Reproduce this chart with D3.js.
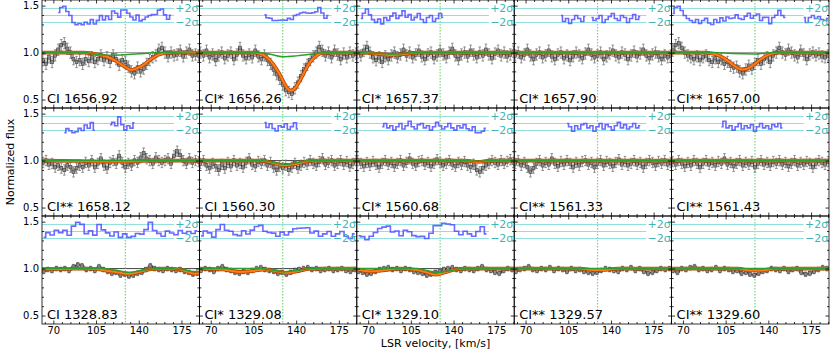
<!DOCTYPE html>
<html>
<head>
<meta charset="utf-8">
<script src="https://cdn.jsdelivr.net/npm/d3@7"></script>
<style>
  body { margin: 0; background: #fff; }
  svg { display: block; font-family: "DejaVu Sans", sans-serif; }
</style>
</head>
<body>
<div id="chart"></div>
<script>
// panel labels, row by row
const panelLabels = [
  'CI 1656.92', 'CI* 1656.26', 'CI* 1657.37', 'CI* 1657.90', 'CI** 1657.00',
  'CI** 1658.12', 'CI 1560.30', 'CI* 1560.68', 'CI** 1561.33', 'CI** 1561.43',
  'CI 1328.83', 'CI* 1329.08', 'CI* 1329.10', 'CI** 1329.57', 'CI** 1329.60'
];

// pixel grid of the spectrum in each row (km/s)
const rowVelStart = [61.5, 61.5, 62];
const rowVelStep = [2.5, 2.5, 3.5];
const rowFluxErr = [0.06, 0.055, 0.025];
// 1 sigma used for the residual strip
const rowResidErr = [0.035, 0.032, 0.015];

const xTicks = [70, 105, 140, 175];
const yTicks = [0.5, 1.0, 1.5];
const componentVel = 129;

// normalized flux
const fluxR1C1 = [0.92,0.88,0.95,0.90,0.97,1.03,1.08,1.10,1.04,1.00,0.93,0.90,0.92,0.88,0.93,0.91,0.95,0.90,0.93,0.97,0.92,0.95,0.90,0.97,0.93,0.87,0.92,0.90,0.85,0.80,0.78,0.84,0.80,0.83,0.88,0.92,0.95,0.97,1.03,1.05,1.00,0.96,1.00,0.97,0.98,1.02,0.96,1.00,1.03,0.97,0.98,0.97];
const fluxR1C2 = [1.00,0.97,1.02,0.95,0.98,0.92,0.97,1.00,0.94,0.97,1.00,0.93,0.98,1.05,0.97,0.94,0.98,0.95,1.02,0.96,0.93,0.97,0.92,0.88,0.82,0.77,0.72,0.66,0.60,0.58,0.56,0.62,0.68,0.75,0.82,0.87,0.92,0.96,1.00,1.06,1.02,0.97,1.00,0.95,1.02,0.98,0.93,0.99,0.95,1.00,0.97,0.99];
const fluxR1C3 = [1.00,0.97,1.02,1.06,1.00,0.95,0.92,0.95,0.90,0.96,0.93,0.97,1.00,0.95,0.98,1.03,0.97,1.00,0.95,0.98,1.02,0.96,0.93,0.98,1.00,0.94,0.97,1.02,0.98,0.95,1.00,1.04,0.97,0.93,0.98,1.00,0.96,1.02,0.98,0.95,1.00,0.97,1.03,0.98,0.94,0.99,1.02,0.97,1.00,0.96,0.98,1.01];
const fluxR1C4 = [0.97,1.00,0.95,0.98,1.03,0.97,0.93,0.98,1.00,0.95,0.97,1.02,0.96,0.93,0.98,1.00,0.94,0.97,0.92,0.96,1.00,0.97,0.94,0.99,1.03,0.98,0.95,0.97,1.00,0.93,0.96,0.99,1.02,0.97,0.95,1.00,0.98,0.93,0.97,1.01,0.96,0.99,1.03,0.97,0.94,0.98,1.00,0.96,0.93,0.97,0.95,0.97];
const fluxR1C5 = [1.02,1.08,1.10,1.05,1.00,0.97,0.95,0.93,0.96,0.92,0.95,0.97,0.92,0.90,0.94,0.90,0.93,0.88,0.90,0.86,0.84,0.85,0.80,0.78,0.82,0.86,0.83,0.88,0.92,0.88,0.93,0.95,0.90,0.97,1.00,1.05,1.00,0.98,1.03,1.00,0.97,0.95,1.02,0.98,0.93,0.98,1.00,0.97,0.99,0.96,0.95,0.97];
const fluxR2C1 = [0.98,1.00,0.96,0.97,0.93,0.95,0.92,0.90,0.95,0.93,0.88,0.92,0.95,0.93,0.98,0.95,1.00,0.93,0.97,1.02,0.95,0.92,0.98,1.00,0.97,1.05,0.98,0.93,0.97,0.95,1.00,0.98,1.03,1.08,1.02,1.00,0.97,1.03,1.00,0.98,1.00,1.02,0.97,1.05,1.10,1.06,1.00,0.97,1.02,0.98,1.00,0.99];
const fluxR2C2 = [0.97,1.00,0.95,0.92,0.97,0.94,0.90,0.96,0.92,0.98,0.94,1.00,0.95,0.97,0.93,0.98,1.02,0.96,0.94,0.99,0.97,1.00,0.95,0.98,0.93,0.90,0.94,0.92,0.95,0.90,0.93,0.97,0.92,0.95,0.98,0.96,1.00,0.97,0.95,0.99,1.02,0.96,0.98,1.00,0.95,0.97,1.00,0.96,0.99,0.94,0.97,1.00];
const fluxR2C3 = [1.00,0.97,0.94,0.98,0.95,0.99,0.96,0.93,0.97,1.00,0.96,0.98,0.94,0.97,1.00,0.95,0.98,1.02,0.97,0.95,0.99,1.00,0.96,0.98,0.94,0.97,1.01,0.98,0.95,0.97,1.00,0.96,0.94,0.98,0.96,0.99,0.95,0.93,0.96,0.90,0.88,0.92,0.95,0.97,1.00,0.98,0.96,1.00,0.97,0.99,1.01,0.98];
const fluxR2C4 = [0.97,1.00,0.95,0.98,0.93,0.88,0.92,0.97,1.00,0.95,0.98,0.96,1.02,0.97,0.94,0.99,0.96,1.00,0.97,0.93,0.98,0.95,0.99,1.00,0.96,0.98,0.93,0.97,1.00,0.95,0.99,0.97,0.94,0.98,1.01,0.96,0.99,0.95,0.97,1.00,0.96,0.98,0.93,0.97,1.00,0.98,0.95,0.99,0.97,1.00,0.96,0.98];
const fluxR2C5 = [0.99,0.96,1.00,0.97,0.94,0.98,0.95,1.00,0.97,0.93,0.97,1.00,0.96,0.98,0.95,0.99,0.97,1.02,0.96,0.98,0.94,0.97,1.00,0.95,0.98,0.96,0.99,0.93,0.97,1.00,0.96,0.98,0.95,0.99,0.97,1.00,0.96,0.98,0.94,0.97,1.00,0.95,0.98,0.96,0.99,0.97,0.93,0.97,1.00,0.98,0.96,0.99];
const fluxR3C1 = [0.97,0.99,0.98,1.00,0.99,1.00,0.98,1.02,1.04,1.03,0.99,1.00,0.98,1.02,0.99,0.97,0.95,0.96,0.93,0.94,0.92,0.93,0.95,0.96,0.99,1.03,1.00,0.99,0.98,1.00,0.99,0.98,0.99,0.97,0.96,0.94,0.95];
const fluxR3C2 = [0.98,1.00,0.99,0.97,1.00,1.02,0.99,0.98,0.96,0.95,0.97,0.96,0.98,1.00,1.01,0.99,0.98,0.97,0.95,0.96,0.94,0.96,0.98,0.99,1.00,1.01,0.99,1.00,0.98,0.99,1.00,0.98,0.99,1.00,0.98,0.97,0.99];
const fluxR3C3 = [0.97,0.96,0.94,0.95,0.97,0.99,1.00,1.01,0.99,1.00,0.98,1.00,0.99,0.97,0.96,0.95,0.93,0.94,0.96,0.97,0.99,1.00,1.01,0.99,0.98,1.00,0.99,0.98,1.00,1.02,0.99,0.98,0.96,0.95,0.98,1.00,0.99];
const fluxR3C4 = [0.97,0.99,1.00,1.02,0.99,0.98,1.00,0.99,1.01,0.98,1.00,0.99,0.97,1.00,0.98,0.99,0.97,0.96,0.95,0.96,0.98,1.00,0.99,0.98,0.97,1.00,0.99,1.01,0.98,1.00,0.97,0.95,0.96,0.98,1.00,0.99,1.00];
const fluxR3C5 = [0.98,0.96,1.00,0.99,1.01,1.02,0.99,1.00,0.98,0.99,1.01,0.98,1.00,0.99,0.97,0.98,0.95,0.96,0.94,0.93,0.95,0.97,0.98,1.00,0.99,0.98,1.00,0.97,0.99,1.00,0.96,0.94,0.95,0.97,0.99,1.01,1.00];

const panelFlux = [
  fluxR1C1, fluxR1C2, fluxR1C3, fluxR1C4, fluxR1C5,
  fluxR2C1, fluxR2C2, fluxR2C3, fluxR2C4, fluxR2C5,
  fluxR3C1, fluxR3C2, fluxR3C3, fluxR3C4, fluxR3C5
];

// total model (orange), [velocity, flux] knots
const modelTotal = [
  [[61,1],[95,1],[102,0.99],[108,0.975],[114,0.955],[120,0.92],[126,0.87],[131,0.83],[134,0.815],[138,0.83],[144,0.87],[150,0.93],[156,0.975],[162,0.995],[168,1],[190,1]],
  [[61,1],[105,1],[110,0.99],[116,0.95],[121,0.88],[126,0.78],[130,0.68],[133,0.615],[136,0.595],[139,0.62],[143,0.7],[147,0.8],[151,0.89],[156,0.96],[161,0.995],[166,1],[190,1]],
  [[61,1],[70,0.995],[80,0.985],[90,0.975],[100,0.985],[110,1],[190,1]],
  [[61,1],[190,1]],
  [[61,1],[88,1],[94,0.99],[100,0.965],[106,0.92],[111,0.87],[115,0.835],[119,0.82],[123,0.83],[128,0.87],[134,0.93],[140,0.975],[146,0.997],[150,1],[190,1]],
  [[61,1],[90,0.995],[110,0.99],[130,0.99],[150,1],[190,1]],
  [[61,1],[110,1],[120,0.98],[130,0.95],[138,0.96],[148,0.99],[155,1],[190,1]],
  [[61,1],[150,1],[160,0.985],[170,1],[190,1]],
  [[61,1],[190,1]],
  [[61,1],[190,1]],
  [[61,0.995],[80,0.995],[95,1],[105,0.995],[115,0.975],[125,0.955],[132,0.945],[138,0.955],[145,0.98],[152,0.995],[160,1],[170,0.995],[177,0.98],[182,0.955],[186,0.945],[190,0.95]],
  [[61,1],[80,0.99],[95,0.965],[105,0.975],[115,0.99],[125,0.97],[132,0.955],[140,0.97],[150,0.995],[160,1],[190,1]],
  [[61,0.99],[72,0.97],[82,0.98],[95,1],[110,0.985],[118,0.96],[125,0.935],[132,0.955],[140,0.985],[150,1],[190,1]],
  [[61,1],[115,1],[125,0.985],[135,0.985],[145,1],[190,1]],
  [[61,1],[115,1],[125,0.98],[135,0.98],[145,1],[190,1]]
];

// single component (green) knots
const modelComponent = [
  [[61,1],[95,1],[105,0.98],[115,0.972],[125,0.975],[140,0.988],[160,1],[175,0.995],[190,0.99]],
  [[61,1],[108,1],[118,0.985],[129,0.956],[140,0.965],[150,0.98],[160,0.995],[168,1],[190,1]],
  [[61,1],[70,0.995],[80,0.99],[90,0.985],[100,0.99],[110,1],[190,1]],
  [[61,1],[190,1]],
  [[61,1],[95,1],[110,0.99],[129,0.985],[145,1],[190,1]],
  [[61,1],[190,1]],
  [[61,1],[110,1],[120,0.985],[130,0.96],[138,0.97],[148,0.995],[155,1],[190,1]],
  [[61,1],[150,1],[160,0.99],[170,1],[190,1]],
  [[61,1],[190,1]],
  [[61,1],[190,1]],
  [[61,1],[110,1],[120,0.985],[132,0.96],[145,0.985],[160,1],[175,0.99],[185,0.97],[190,0.97]],
  [[61,1],[110,1],[120,0.985],[130,0.965],[140,0.98],[155,1],[190,1]],
  [[61,1],[110,1],[118,0.98],[127,0.96],[136,0.975],[148,1],[190,1]],
  [[61,1],[190,1]],
  [[61,1],[190,1]]
];

// velocity ranges that were fitted (residuals shown)
const residRanges = [
  [[74,168]], [[113,168]], [[64,133]], [[98,120],[124,164]], [[61,155],[169,190]],
  [[79,104],[115,138]], [[112,143]], [[80,168]], [[102,164]], [[100,153]],
  [[61,190]], [[61,190]], [[61,167]], [], []
];

const width = 830, height = 353;
const margin = { left: 42, top: 0 };
const panelW = 157.4, panelH = 108;
const velDomain = [60.7, 189.7];
const fluxDomain = [0.41, 1.56];
const residCenter = 1.395, residSigma = 0.0375;

const svg = d3.select('#chart').append('svg')
  .attr('width', width)
  .attr('height', height);

const defs = svg.append('defs');

panelLabels.forEach((label, p) => {
  const row = Math.floor(p / 5), col = p % 5;
  const x0 = margin.left + col * panelW;
  const y0 = margin.top + row * panelH;

  const x = d3.scaleLinear().domain(velDomain).range([x0, x0 + panelW]);
  const y = d3.scaleLinear().domain(fluxDomain).range([y0 + panelH, y0]);

  defs.append('clipPath').attr('id', `clip${p}`)
    .append('rect').attr('x', x0).attr('y', y0).attr('width', panelW).attr('height', panelH);

  const g = svg.append('g');
  const plot = g.append('g').attr('clip-path', `url(#clip${p})`);

  const flux = panelFlux[p];
  const err = rowFluxErr[row];
  const pts = flux.map((f, i) => ({ v: rowVelStart[row] + i * rowVelStep[row], f }));

  const knots = modelTotal[p];
  const model = d3.scaleLinear().domain(knots.map(k => k[0])).range(knots.map(k => k[1]));

  // continuum
  plot.append('line')
    .attr('x1', x0).attr('x2', x0 + panelW)
    .attr('y1', y(1)).attr('y2', y(1))
    .attr('stroke', row === 0 ? '#999' : '#444').attr('stroke-width', 1);

  // component velocity
  plot.append('line')
    .attr('x1', x(componentVel)).attr('x2', x(componentVel))
    .attr('y1', y0).attr('y2', y0 + panelH)
    .attr('stroke', '#7ad67a').attr('stroke-width', 1.2)
    .attr('stroke-dasharray', '1.5,1.5');

  // 2 sigma guide lines
  [residCenter + 2 * residSigma, residCenter, residCenter - 2 * residSigma].forEach(v => {
    plot.append('line')
      .attr('x1', x0).attr('x2', x(169))
      .attr('y1', y(v)).attr('y2', y(v))
      .attr('stroke', '#8fdede').attr('stroke-width', 1);
  });

  // residuals
  const inRange = v => residRanges[p].some(r => v >= r[0] && v <= r[1]);
  const resid = pts.map(d => ({
    v: d.v,
    r: residCenter + residSigma * Math.max(-2.6, Math.min(2.6, (d.f - model(d.v)) / rowResidErr[row])),
    ok: inRange(d.v)
  }));
  plot.append('path')
    .datum(resid)
    .attr('fill', 'none')
    .attr('stroke', '#5050ff')
    .attr('stroke-opacity', 0.85)
    .attr('stroke-width', 1.6)
    .attr('d', d3.line().defined(d => d.ok).curve(d3.curveStep).x(d => x(d.v)).y(d => y(d.r)));

  // error bars
  const eb = plot.append('g').attr('stroke', '#777').attr('stroke-width', 0.8);
  pts.forEach(d => {
    eb.append('line').attr('x1', x(d.v)).attr('x2', x(d.v)).attr('y1', y(d.f - err)).attr('y2', y(d.f + err));
    eb.append('line').attr('x1', x(d.v) - 1.3).attr('x2', x(d.v) + 1.3).attr('y1', y(d.f - err)).attr('y2', y(d.f - err));
    eb.append('line').attr('x1', x(d.v) - 1.3).attr('x2', x(d.v) + 1.3).attr('y1', y(d.f + err)).attr('y2', y(d.f + err));
  });

  // spectrum
  plot.append('path')
    .datum(pts)
    .attr('fill', 'none')
    .attr('stroke', '#222')
    .attr('stroke-width', 0.9)
    .attr('d', d3.line().curve(d3.curveStep).x(d => x(d.v)).y(d => y(d.f)));

  plot.selectAll('.pt')
    .data(pts)
    .enter()
    .append('rect')
    .attr('x', d => x(d.v) - 1.5)
    .attr('y', d => y(d.f) - 1.8)
    .attr('width', 3).attr('height', 3.6)
    .attr('fill', '#8c8c8c').attr('stroke', '#333').attr('stroke-width', 0.5);

  // model curves
  const curve = d3.line().curve(d3.curveMonotoneX).x(d => x(d[0])).y(d => y(d[1]));
  plot.append('path').datum(knots)
    .attr('fill', 'none').attr('stroke', '#b84500').attr('stroke-width', 3.6).attr('d', curve);
  plot.append('path').datum(knots)
    .attr('fill', 'none').attr('stroke', '#ff7a1a').attr('stroke-width', 2).attr('d', curve);
  plot.append('path').datum(modelComponent[p])
    .attr('fill', 'none').attr('stroke', '#2ca02c').attr('stroke-width', 1.5).attr('d', curve);

  // axes: ticks inward on all sides
  const minorX = d3.range(63, 190, 7).filter(v => !xTicks.includes(v));
  const minorY = d3.range(0.5, 1.56, 0.1).filter(v => !yTicks.some(t => Math.abs(t - v) < 1e-6));

  const addAxis = (axis, tx, ty) => {
    const a = g.append('g').attr('transform', `translate(${tx},${ty})`).call(axis);
    a.select('.domain').remove();
    a.selectAll('line').attr('stroke', '#000').attr('stroke-width', 0.8);
    a.selectAll('text').attr('font-size', 10).attr('fill', '#000').attr('font-family', '"DejaVu Sans", sans-serif');
    return a;
  };

  addAxis(d3.axisLeft(y).tickValues(yTicks).tickSizeInner(-3.5).tickSizeOuter(0).tickPadding(3)
    .tickFormat(col === 0 ? d3.format('.1f') : ''), x0, 0);
  addAxis(d3.axisLeft(y).tickValues(minorY).tickSizeInner(-2).tickSizeOuter(0).tickFormat(''), x0, 0);
  addAxis(d3.axisRight(y).tickValues(yTicks).tickSizeInner(-3.5).tickSizeOuter(0).tickFormat(''), x0 + panelW, 0);
  addAxis(d3.axisRight(y).tickValues(minorY).tickSizeInner(-2).tickSizeOuter(0).tickFormat(''), x0 + panelW, 0);
  addAxis(d3.axisBottom(x).tickValues(xTicks).tickSizeInner(-3.5).tickSizeOuter(0).tickPadding(3)
    .tickFormat(row === 2 ? d3.format('d') : ''), 0, y0 + panelH);
  addAxis(d3.axisBottom(x).tickValues(minorX).tickSizeInner(-2).tickSizeOuter(0).tickFormat(''), 0, y0 + panelH);
  addAxis(d3.axisTop(x).tickValues(xTicks).tickSizeInner(-3.5).tickSizeOuter(0).tickFormat(''), 0, y0);
  addAxis(d3.axisTop(x).tickValues(minorX).tickSizeInner(-2).tickSizeOuter(0).tickFormat(''), 0, y0);

  // frame
  g.append('rect')
    .attr('x', x0).attr('y', y0).attr('width', panelW).attr('height', panelH)
    .attr('fill', 'none').attr('stroke', '#000').attr('stroke-width', 0.8);

  // sigma labels
  g.append('text')
    .attr('x', x(170)).attr('y', y(residCenter + 2 * residSigma))
    .attr('dy', '0.35em')
    .attr('font-size', 11).attr('fill', '#3cb6b6')
    .text('+2σ');
  g.append('text')
    .attr('x', x(170)).attr('y', y(residCenter - 2 * residSigma))
    .attr('dy', '0.35em')
    .attr('font-size', 11).attr('fill', '#3cb6b6')
    .text('\u22122σ');

  // line label
  g.append('text')
    .attr('x', x0 + 5).attr('y', y0 + panelH - 5)
    .attr('font-size', 13).attr('fill', '#000')
    .text(label);
});

svg.append('text')
  .attr('transform', `translate(14,${margin.top + 1.5 * panelH}) rotate(-90)`)
  .attr('text-anchor', 'middle')
  .attr('font-size', 11)
  .text('Normalized flux');

svg.append('text')
  .attr('x', margin.left + 2.5 * panelW)
  .attr('y', 347)
  .attr('text-anchor', 'middle')
  .attr('font-size', 11)
  .text('LSR velocity, [km/s]');
</script>
</body>
</html>
